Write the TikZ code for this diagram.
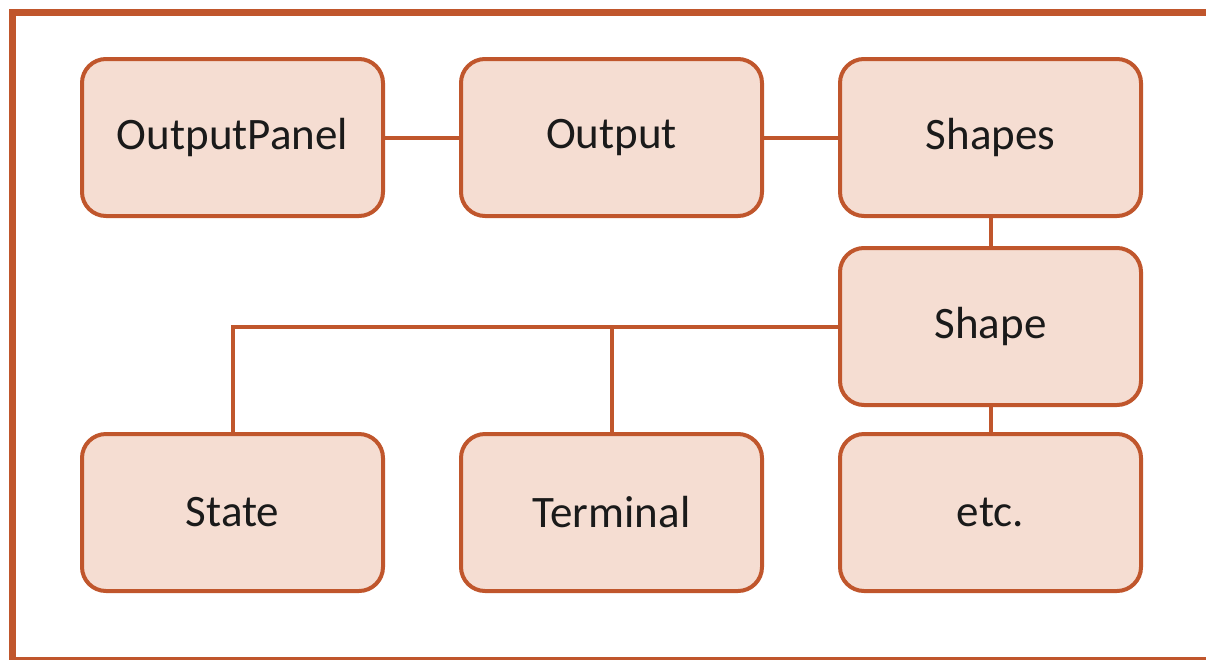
\documentclass[tikz,border=0pt]{standalone}
\usepackage{fontspec}
\setmainfont{Carlito}
\definecolor{brd}{RGB}{192,86,44}
\definecolor{boxfill}{RGB}{245,221,210}
\definecolor{txt}{RGB}{26,26,26}
\begin{document}
\begin{tikzpicture}[x=1pt,y=-1pt,
  box/.style={draw=brd, fill=boxfill, line width=4pt, rounded corners=24pt,
    minimum width=301pt, minimum height=157pt, inner sep=0pt,
    font=\fontsize{45}{54}\selectfont, text=txt},
  conn/.style={draw=brd, line width=4pt}]
\useasboundingbox (0,0) rectangle (1206,659);
\draw[brd, line width=7pt] (12,12) rectangle (1220,660);
\node[box] (outpanel) at (232.5,137.5) {OutputPanel};
\node[box] (output) at (611.5,137.5) {Output};
\node[box] (shapes) at (990.5,137.5) {Shapes};
\node[box] (shape) at (990.5,326.5) {Shape};
\node[box] (state) at (232.5,512.5) {State};
\node[box] (terminal) at (611.5,512.5) {Terminal};
\node[box] (etc) at (990.5,512.5) {etc.};
\coordinate (tj) at (terminal.north |- shape.west);
\draw[conn] (outpanel.east) -- (output.west);
\draw[conn] (output.east) -- (shapes.west);
\draw[conn] (shapes.south) -- (shape.north);
\draw[conn] (shape.south) -- (etc.north);
\draw[conn] (shape.west) -| (state.north);
\draw[conn] (tj) -- (terminal.north);
\end{tikzpicture}
\end{document}
